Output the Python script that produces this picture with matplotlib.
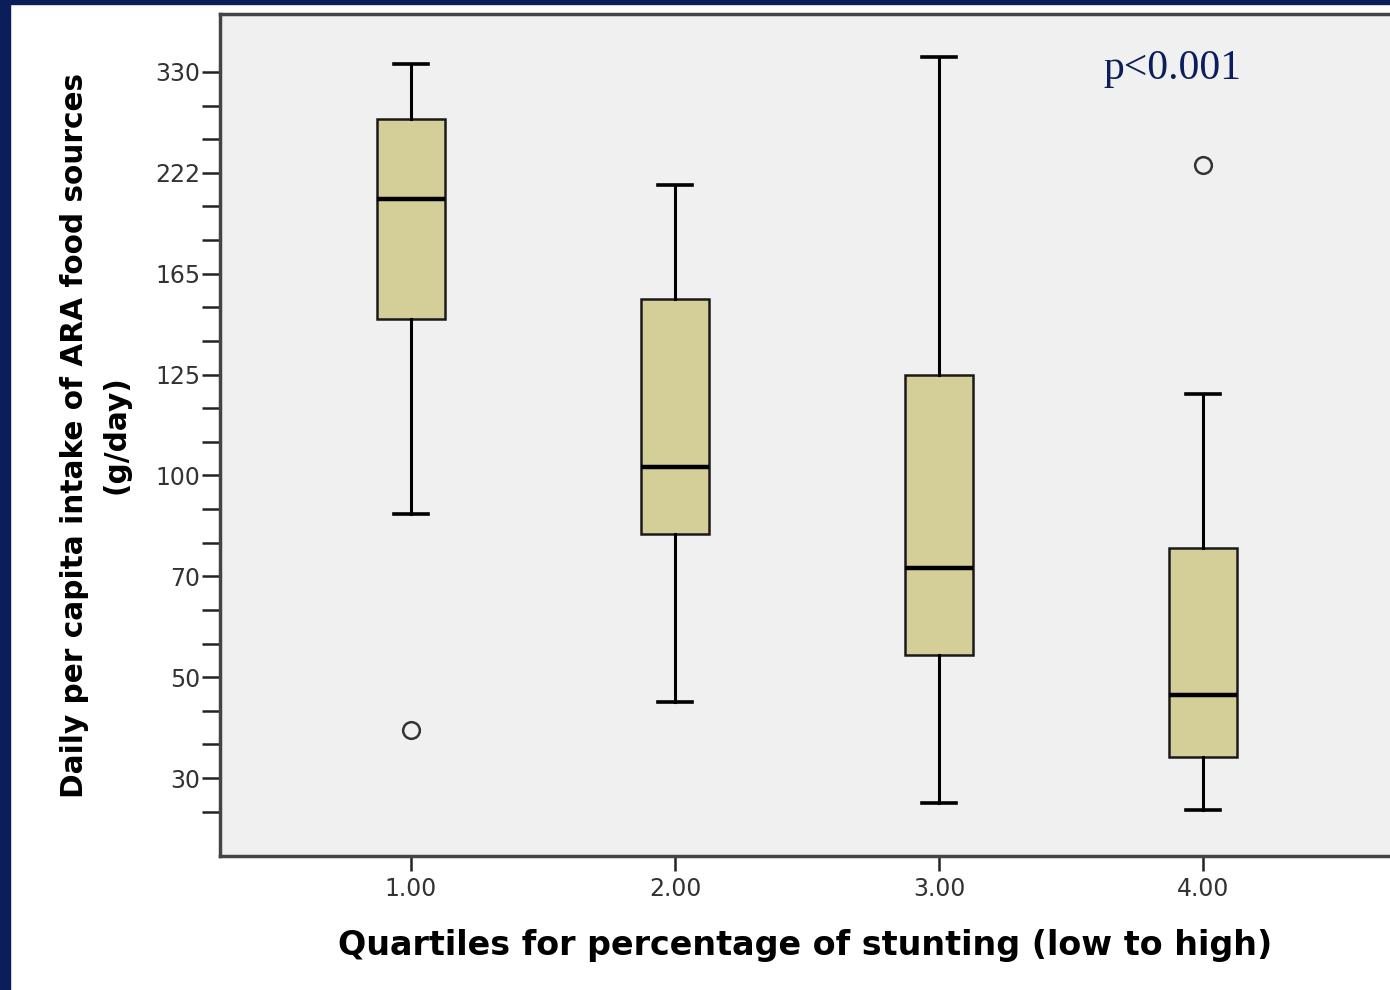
import numpy as np
import matplotlib
matplotlib.use('Agg')
import matplotlib.pyplot as plt
from matplotlib.patches import Rectangle

## -- Data
quartiles = [1, 2, 3, 4]
whislo = [88.6, 45.0, 25.0, 23.6]
q1 = [147.0, 82.6, 54.4, 34.2]
medians = [207.0, 102.0, 72.4, 46.4]
q3 = [280.0, 155.0, 125.0, 78.4]
whishi = [339.0, 215.0, 346.0, 120.3]
outliers = [[39.6], [], [], [230.6]]

ytick_vals = [30, 50, 70, 100, 125, 165, 222, 330]
p_text = "p<0.001"

## -- y axis: tick values equally spaced (piecewise linear scale)
tv = np.array(ytick_vals, dtype=float)
tp = np.arange(len(tv), dtype=float)

def fwd(v):
	v = np.asarray(v, dtype=float)
	p = np.interp(v, tv, tp)
	p = np.where(v < tv[0], (v - tv[0]) / (tv[1] - tv[0]), p)
	p = np.where(v > tv[-1], tp[-1] + (v - tv[-1]) / (tv[-1] - tv[-2]), p)
	return p

def inv(p):
	p = np.asarray(p, dtype=float)
	v = np.interp(p, tp, tv)
	v = np.where(p < tp[0], tv[0] + p * (tv[1] - tv[0]), v)
	v = np.where(p > tp[-1], tv[-1] + (p - tp[-1]) * (tv[-1] - tv[-2]), v)
	return v

fig = plt.figure(figsize=(13.9, 9.9), dpi=100)
fig.patch.set_facecolor('white')
navy = '#0b1d5b'
fig.patches.append(Rectangle((0, 0), 10 / 1390., 1, transform=fig.transFigure, color=navy, zorder=0))
fig.patches.append(Rectangle((0, 1 - 4 / 990.), 1, 4 / 990., transform=fig.transFigure, color=navy, zorder=0))

ax = fig.add_axes([220 / 1390., 1 - 856 / 990., 1 - 220 / 1390., (856 - 14) / 990.])
ax.set_facecolor('#f0f0f0')
ax.set_yscale('function', functions=(fwd, inv))

stats = []
for i in range(len(quartiles)):
	stats.append(dict(med=medians[i], q1=q1[i], q3=q3[i], whislo=whislo[i], whishi=whishi[i], fliers=outliers[i]))

ax.bxp(stats, positions=quartiles, widths=0.254, patch_artist=True, manage_ticks=False,
	boxprops=dict(facecolor='#d4ce98', edgecolor='#1a1a1a', linewidth=1.8),
	medianprops=dict(color='black', linewidth=3.2),
	whiskerprops=dict(color='black', linewidth=2.2),
	capprops=dict(color='black', linewidth=2.6),
	flierprops=dict(marker='o', markersize=12, markerfacecolor='none', markeredgecolor='#333333', markeredgewidth=1.8))

ax.set_xlim(1 - 191 / 264., 4 + 187 / 264.)
ax.set_ylim(float(inv(-(856 - 778) / 100.86)), float(inv(7 + (72 - 14) / 100.86)))

## ticks
ax.set_yticks(ytick_vals)
ax.set_yticklabels([str(v) for v in ytick_vals])
minor_pos = [k / 3. for k in range(-1, 21) if k % 3 != 0]
ax.yaxis.set_minor_locator(matplotlib.ticker.FixedLocator(inv(minor_pos)))
ax.yaxis.set_minor_formatter(matplotlib.ticker.NullFormatter())
ax.tick_params(axis='y', which='both', length=13, width=1.8, color='#222222', labelsize=17, labelcolor='#333333', pad=1)
ax.set_xticks(quartiles)
ax.set_xticklabels(["%.2f" % q for q in quartiles])
ax.tick_params(axis='x', length=11, width=1.8, color='#222222', labelsize=17, labelcolor='#333333', pad=4)

for s in ['left', 'bottom', 'top']:
	ax.spines[s].set_color('#444444')
	ax.spines[s].set_linewidth(2.5)
ax.spines['right'].set_visible(False)

ax.set_ylabel("Daily per capita intake of ARA food sources\n(g/day)", fontsize=21.3, fontweight='bold', labelpad=18, linespacing=1.55)
ax.set_xlabel("Quartiles for percentage of stunting (low to high)", fontsize=24, fontweight='bold', labelpad=20)

ax.text(0.755, 0.935, p_text, transform=ax.transAxes, fontsize=30, family='Liberation Serif', color='#0b1d5b', ha='left', va='center')

plt.savefig('out.png', dpi=100)
